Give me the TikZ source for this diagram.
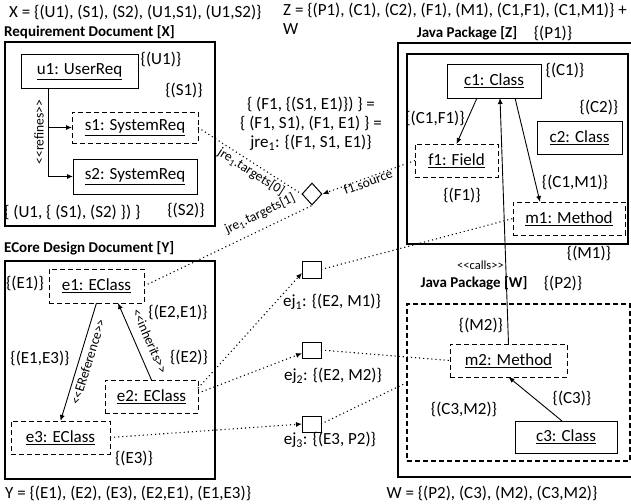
\documentclass[tikz,border=0pt]{standalone}
\usepackage{fontspec}
\setmainfont{Carlito}
\usetikzlibrary{arrows.meta,shapes.geometric,calc}
\newcommand\dlt{<\kern0pt<}
\newcommand\dgt{>\kern0pt>}
\tikzset{
  lbl/.style={font=\fontsize{17}{19}\selectfont, inner sep=0pt},
  ttl/.style={font=\bfseries\fontsize{15}{19}\selectfont, inner sep=0pt},
  small/.style={font=\fontsize{13.5}{15}\selectfont, inner sep=0pt},
  tiny/.style={font=\fontsize{12.5}{13}\selectfont, inner sep=1.5pt},
  solidbox/.style={draw, line width=1pt, inner sep=0pt, outer sep=0pt, font=\fontsize{17}{19}\selectfont},
  dashbox/.style={solidbox, dash pattern=on 5pt off 3pt},
  frame/.style={draw, line width=1.2pt, inner sep=0pt, outer sep=0pt},
  dframe/.style={frame, dash pattern=on 5pt off 3pt},
  conn/.style={line width=0.9pt, -{Latex[length=6pt,width=5pt]}},
  dots/.style={line width=1.1pt, dash pattern=on 1.1pt off 3pt},
  darr/.style={dots, -{Latex[length=6pt,width=5pt]}},
}
\begin{document}
\begin{tikzpicture}[x=1pt,y=-1pt]
\useasboundingbox[fill=white] (0,0) rectangle (631,503);

% ---------- headers ----------
\node[lbl, anchor=west] (hx) at (9,12) {X = \{(U1), (S1), (S2), (U1,S1), (U1,S2)\}};
\node[lbl, anchor=north west, align=left] (hz) at (283,3) {Z = \{(P1), (C1), (C2), (F1), (M1), (C1,F1), (C1,M1)\} +\\W};

% ---------- Requirement Document ----------
\node[ttl, anchor=west] (tx) at (4,32) {Requirement Document [X]};
\node[frame, minimum width=210, minimum height=184] (X) at (110,134) {};
\node[solidbox, minimum width=117, minimum height=33] (u1) at (79.5,71.5) {\underline{u1: UserReq}};
\node[dashbox, minimum width=126, minimum height=31] (s1) at (135,127.5) {\underline{s1: SystemReq}};
\node[solidbox, minimum width=124, minimum height=35] (s2) at (135,176.5) {\underline{s2: SystemReq}};
\node[lbl] (lu1) at (161,59) {\{(U1)\}};
\node[lbl] (ls1) at (184,90) {\{(S1)\}};
\node[lbl] (ls2) at (186,210) {\{(S2)\}};
\node[lbl, anchor=west] (lus) at (4,212) {\{ (U1, \{ (S1), (S2) \}) \}};
\draw[conn] ($(u1.south west)+(27,0)$) |- (s2.west);
\draw[conn] ($(u1.south west)+(27,0)$) |- (s1.west);
\node[small, rotate=90] (lref) at (39,132) {\dlt refines\dgt};

% ---------- ECore ----------
\node[ttl, anchor=west] (ty) at (4,248) {ECore Design Document [Y]};
\node[frame, minimum width=210, minimum height=218] (Y) at (110,370) {};
\node[dashbox, minimum width=95, minimum height=34] (e1) at (96.5,286) {\underline{e1: EClass}};
\node[dashbox, minimum width=93, minimum height=33] (e2) at (151.5,396.5) {\underline{e2: EClass}};
\node[dashbox, minimum width=99, minimum height=33] (e3) at (60.5,437.5) {\underline{e3: EClass}};
\node[lbl] (le1) at (25,283) {\{(E1)\}};
\node[lbl] (le21) at (178,312) {\{(E2,E1)\}};
\node[lbl] (le13) at (40,358) {\{(E1,E3)\}};
\node[lbl] (le2) at (189,357) {\{(E2)\}};
\node[lbl] (le3) at (134,458) {\{(E3)\}};
\node[lbl, anchor=west] (hy) at (5,493) {Y = \{(E1), (E2), (E3), (E2,E1), (E1,E3)\}};
\draw[conn] (e1.south) -- (e3.north);
\node[small, rotate=72.6] (lerf) at (88,362) {\dlt EReference\dgt};
\draw[conn] (e2.north) -- ($(e1.south)+(21.5,0)$);
\node[small, rotate=-66.2] (linh) at (150,341) {\dlt inherits\dgt};

% ---------- middle ----------
\node[lbl, align=center] (mid) at (311,124) {\{ (F1, \{(S1, E1)\}) \} =\\\{ (F1, S1), (F1, E1) \} =\\jre\textsubscript{1}: \{(F1, S1, E1)\}};
\node[draw, diamond, line width=1pt, minimum width=20, minimum height=22, inner sep=0pt] (d) at (312,194) {};
\node[solidbox, minimum width=19, minimum height=17] (ej1) at (311.5,269.5) {};
\node[solidbox, minimum width=19, minimum height=16] (ej2) at (311.5,350) {};
\node[solidbox, minimum width=19, minimum height=16] (ej3) at (311.5,424) {};
\node[lbl] (lej1) at (332,302) {ej\textsubscript{1}: \{(E2, M1)\}};
\node[lbl] (lej2) at (333,376) {ej\textsubscript{2}: \{(E2, M2)\}};
\node[lbl] (lej3) at (330,440) {ej\textsubscript{3}: \{(E3, P2)\}};

% ---------- Java Package Z ----------
\node[ttl] (tz) at (467,33) {Java Package [Z]};
\node[lbl] (lp1) at (553,33) {\{(P1)\}};
\node[frame, minimum width=240, minimum height=434] (Z) at (518,260) {};
\node[frame, minimum width=221, minimum height=190] (Zi) at (517.5,149) {};
\node[solidbox, minimum width=94, minimum height=34] (c1) at (494,81) {\underline{c1: Class}};
\node[solidbox, minimum width=85, minimum height=33] (c2) at (579.5,137.5) {\underline{c2: Class}};
\node[dashbox, minimum width=83, minimum height=33] (f1) at (456.5,160.5) {\underline{f1: Field}};
\node[dashbox, minimum width=112, minimum height=33] (m1) at (569,218.5) {\underline{m1: Method}};
\node[lbl] (lc1) at (565,70) {\{(C1)\}};
\node[lbl] (lc2) at (599,107) {\{(C2)\}};
\node[lbl] (lc1f1) at (435,118) {\{(C1,F1)\}};
\node[lbl] (lf1) at (462,195) {\{(F1)\}};
\node[lbl] (lc1m1) at (575,182) {\{(C1,M1)\}};
\node[lbl] (lm1) at (589,253) {\{(M1)\}};
\draw[conn] ($(c1.south west)+(30,0)$) -- (f1.north);
\draw[conn] ($(c1.south east)+(-26,0)$) -- ($(m1.north west)+(27,0)$);

% ---------- Java Package W ----------
\node[ttl] (tw) at (474,283) {Java Package [W]};
\node[lbl] (lp2) at (563,283) {\{(P2)\}};
\node[dframe, minimum width=223, minimum height=157] (W) at (518.5,382.5) {};
\node[dashbox, minimum width=117, minimum height=33] (m2) at (508.5,360.5) {\underline{m2: Method}};
\node[solidbox, minimum width=102, minimum height=32] (c3) at (566,437) {\underline{c3: Class}};
\node[lbl] (lm2) at (481,325) {\{(M2)\}};
\node[lbl] (lc3) at (572,398) {\{(C3)\}};
\node[lbl] (lc3m2) at (464,409) {\{(C3,M2)\}};
\node[lbl] (hw) at (492,493) {W = \{(P2), (C3), (M2), (C3,M2)\}};
\draw[conn] ($(c3.north)+(-4,0)$) -- (m2.south);
\draw[conn] (m2.north) -- node[tiny, pos=0.32, left] {\dlt calls\dgt} ($(c1.south)+(6,0)$);

% ---------- dotted connectors ----------
\draw[dots] (s1.east) -- (d.west);
\node[small, rotate=-32.6] (lt0) at (251,172) {jre\textsubscript{1}.targets[0]};
\draw[dots] (e1.east) -- (d.south);
\node[small, rotate=25.7] (lt1) at (260,214) {jre\textsubscript{1}.targets[1]};
\draw[darr] (f1.west) -- (d.east);
\node[small, rotate=19.8] (lsrc) at (368,182) {f1.source};
\draw[darr] ($(e2.north east)!0.25!(e2.south east)$) -- ($(ej1.south west)!0.3!(ej1.north west)$);
\draw[darr] ($(e2.north east)!0.4!(e2.south east)$) -- ($(ej2.south west)!0.3!(ej2.north west)$);
\draw[darr] (e3.east) -- (ej3.west);
\draw[dots] (ej1.east) -- (m1.west);
\draw[dots] (ej2.east) -- (m2.west);
\draw[dots] (ej3.east) -- (W.west);
\end{tikzpicture}
\end{document}
